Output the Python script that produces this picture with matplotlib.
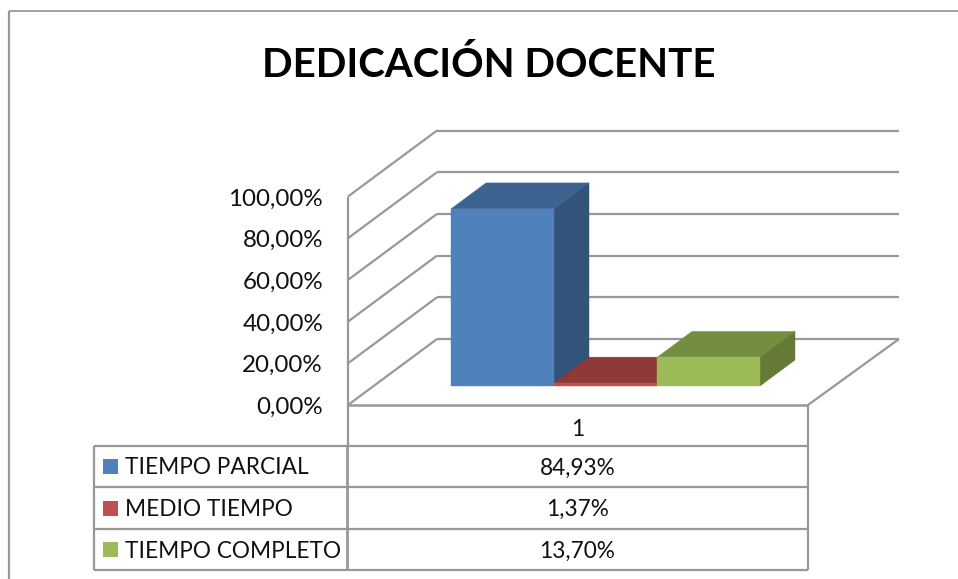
import matplotlib
matplotlib.use("Agg")
import matplotlib.pyplot as plt
from matplotlib.patches import Polygon, Rectangle

plt.rcParams['font.family'] = ['Lato', 'DejaVu Sans']

TITLE = "DEDICACIÓN DOCENTE"
series = ["TIEMPO PARCIAL", "MEDIO TIEMPO", "TIEMPO COMPLETO"]
values = [84.93, 1.37, 13.70]
value_labels = ["84,93%", "1,37%", "13,70%"]
ticks = [0, 20, 40, 60, 80, 100]
tick_labels = ["0,00%", "20,00%", "40,00%", "60,00%", "80,00%", "100,00%"]
category = "1"
front = ["#4F81BD", "#C0504D", "#9BBB59"]
top = ["#3D6390", "#8E3A38", "#748E40"]
side = ["#32547A", "#8E3A38", "#647A36"]

W, H = 958, 579
fig = plt.figure(figsize=(W/100, H/100), dpi=100, facecolor="white")
ax = fig.add_axes([0, 0, 1, 1])
ax.set_xlim(0, W)
ax.set_ylim(H, 0)
ax.axis("off")

GRAY = "#989898"
LW = 1.6
X0, X1, Y0 = 348, 808, 405
DX, DY = 89, -66
K = 2.085


def line(xs, ys, lw=LW, z=2):
    ax.plot(xs, ys, color=GRAY, lw=lw, solid_capstyle="butt", zorder=z)


# outer frame
line([9, 9], [11, H], lw=1.6)
line([9, W], [11, 11], lw=1.3)

ax.text(488.5, 65, TITLE, fontsize=29, fontweight="bold", ha="center", va="center", color="black")

# walls
for t, lab in zip(ticks, tick_labels):
    y = Y0 - t * K
    line([X0, X0 + DX], [y, y + DY])
    line([X0 + DX, X1 + DX + 2], [y + DY, y + DY])
    ax.text(323, y + 2.5, lab, fontsize=17.4, ha="right", va="center", color="#111111")
line([X0, X0], [Y0 - 100 * K, Y0 + 40])
line([X0, X1], [Y0, Y0], lw=1.8)
line([X1, X1 + DX + 2], [Y0, Y0 + DY])

# 3-D bars
BW, BX, BASE = 103, 451, 386
BDX, BDY = 35, -26
for i, v in enumerate(values):
    l, r = BX + i * BW, BX + (i + 1) * BW
    t = BASE - v * K
    ax.add_patch(Polygon([(l, t), (l + BDX, t + BDY), (r + BDX, t + BDY), (r, t)],
                         fc=top[i], ec=top[i], lw=0.3, zorder=4))
    ax.add_patch(Polygon([(r, BASE), (r + BDX, BASE + BDY), (r + BDX, t + BDY), (r, t)],
                         fc=side[i], ec=side[i], lw=0.3, zorder=4))
    ax.add_patch(Polygon([(l, BASE), (r, BASE), (r, t), (l, t)],
                         fc=front[i], ec=front[i], lw=0.3, zorder=5))

# data table
TL, TM, TR = 94, 347, 808
rows = [446, 487, 529, 570]
ax.text((TM + TR) / 2, 430, category, fontsize=16.3, ha="center", va="center", color="#111111")
line([TR, TR], [Y0, rows[-1]], lw=1.6)
line([TL, TR], [rows[0], rows[0]])
for r in rows[1:]:
    line([TL, TR], [r, r])
line([TL, TL], [rows[0], rows[-1]])
line([TM, TM], [rows[0], rows[-1]], lw=2)
for i, (s, lab) in enumerate(zip(series, value_labels)):
    yc = (rows[i] + rows[i + 1]) / 2
    ax.add_patch(Rectangle((103, yc - 7.5), 15, 15, fc=front[i], ec="none", zorder=5))
    ax.text(125, yc + 1.5, s, fontsize=16.3, ha="left", va="center", color="#111111")
    ax.text((TM + TR) / 2, yc + 1.5, lab, fontsize=16.3, ha="center", va="center", color="#111111")

fig.savefig("out.png", dpi=100)
